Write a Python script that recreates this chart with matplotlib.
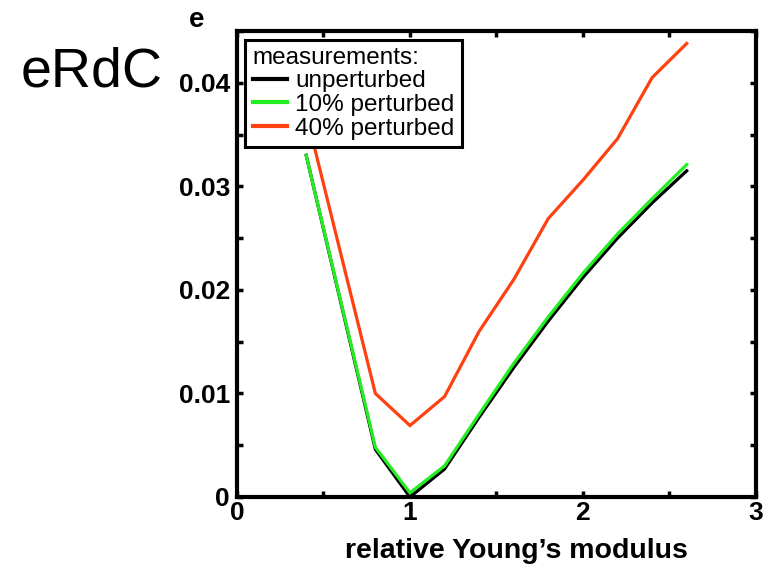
import matplotlib.pyplot as plt
from matplotlib.ticker import MultipleLocator

plt.rcParams['font.family'] = ['Liberation Sans', 'DejaVu Sans']

# relative Young's modulus
young = [0.4, 0.8, 1.0, 1.2, 1.4, 1.6, 1.8, 2.0, 2.2, 2.4, 2.6]

# error e for each set of measurements
unperturbed = [0.0330, 0.0046, 0.0000, 0.0027, 0.0077, 0.0125, 0.0170,
               0.0212, 0.0250, 0.0284, 0.0315]
perturbed_10 = [0.0330, 0.0048, 0.0004, 0.0030, 0.0080, 0.0129, 0.0174,
                0.0216, 0.0254, 0.0288, 0.0321]
perturbed_40 = [0.0370, 0.0100, 0.0069, 0.0097, 0.0160, 0.0210, 0.0269,
                0.0306, 0.0346, 0.0405, 0.0438]

series_labels = ['unperturbed', '10% perturbed', '40% perturbed']
series_colors = ['black', '#22ee22', '#ff4010']

fig = plt.figure(figsize=(7.78, 5.68), dpi=100)
ax = fig.add_axes([0.3046, 0.125, 0.667, 0.8204])

for vals, lab, col in zip([unperturbed, perturbed_10, perturbed_40],
                          series_labels, series_colors):
    ax.plot(young, vals, color=col, lw=2.3, label=lab, solid_joinstyle='miter')

ax.set_xlim(0, 3)
ax.set_ylim(0, 0.045)
ax.xaxis.set_minor_locator(MultipleLocator(0.5))
ax.yaxis.set_minor_locator(MultipleLocator(0.005))
ax.set_xticks([0, 1, 2, 3])
ax.set_xticklabels(['0', '1', '2', '3'])
ax.set_yticks([0, 0.01, 0.02, 0.03, 0.04])
ax.set_yticklabels(['0', '0.01', '0.02', '0.03', '0.04'])

ax.tick_params(which='both', direction='in', top=True, right=True,
               width=2.5, length=4, labelsize=19)
ax.tick_params(axis='x', pad=3)
ax.tick_params(axis='y', pad=5)
for lbl in ax.get_xticklabels() + ax.get_yticklabels():
    lbl.set_fontweight('bold')
for sp in ax.spines.values():
    sp.set_linewidth(3)

ax.set_xlabel("relative Young\u2019s modulus", fontsize=20.5,
              fontweight='bold', va='center')
ax.xaxis.set_label_coords(0.538, -0.115)

leg = ax.legend(title='measurements:', loc='upper left', fontsize=17.5,
                title_fontsize=17.5, alignment='left', fancybox=False,
                framealpha=1, edgecolor='black', handlelength=1.4,
                handletextpad=0.35, borderpad=0.3, labelspacing=0.07,
                borderaxespad=0.35)
leg.get_frame().set_linewidth(2.2)
leg._legend_box.sep = 1
for line in leg.get_lines():
    line.set_linewidth(3)

fig.text(0.026, 0.873, 'eRdC', fontsize=40, va='center', ha='left')
fig.text(0.253, 0.965, 'e', fontsize=20, fontweight='bold',
         va='center', ha='center')

fig.savefig('out.png', dpi=100)
